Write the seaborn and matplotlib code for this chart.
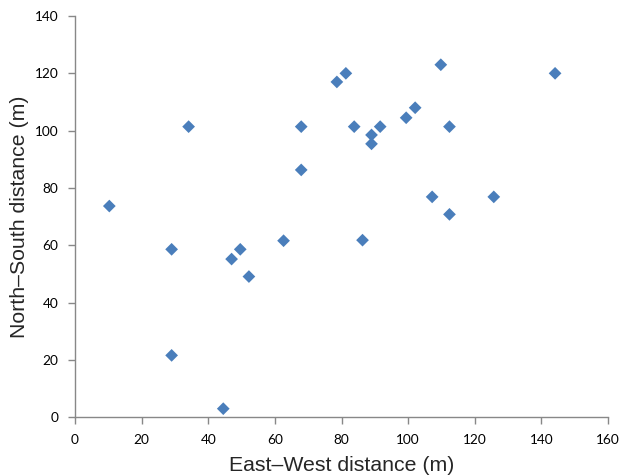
import numpy as np
import pandas as pd
import matplotlib
matplotlib.use("Agg")
import matplotlib.pyplot as plt
import seaborn as sns

# Point positions (metres)
east_west = [10.3, 29.0, 29.0, 34.1, 44.5, 47.0, 49.6, 52.2, 62.6, 67.9, 67.9,
             78.6, 81.3, 83.8, 86.3, 89.0, 89.0, 91.6, 99.4, 102.1, 107.2,
             109.8, 112.4, 112.4, 125.7, 144.1]
north_south = [73.7, 58.6, 21.6, 101.4, 3.0, 55.2, 58.6, 49.1, 61.6, 101.4, 86.3,
               117.0, 120.0, 101.4, 61.8, 98.5, 95.4, 101.4, 104.5, 108.0, 76.9,
               123.0, 101.4, 70.8, 76.9, 120.0]
x_ticks = [0, 20, 40, 60, 80, 100, 120, 140, 160]
y_ticks = [0, 20, 40, 60, 80, 100, 120, 140]

df = pd.DataFrame({"ew": east_west, "ns": north_south})

sns.set_style("white")
plt.rcParams["font.family"] = ["Lato", "DejaVu Sans"]

fig = plt.figure(figsize=(6.23, 4.75), dpi=100)
ax = fig.add_axes([0.1204, 0.1215, 0.8556, 0.8448])

sns.scatterplot(data=df, x="ew", y="ns", marker="D", s=42, color="#4a7ebb",
                edgecolor="none", ax=ax)

ax.set_xlim(0, 160)
ax.set_ylim(0, 140)
ax.set_xticks(x_ticks)
ax.set_yticks(y_ticks)

# Excel-like axes: gray left/bottom spines, outward ticks
for side in ["top", "right"]:
    ax.spines[side].set_visible(False)
for side in ["left", "bottom"]:
    ax.spines[side].set_color("#888888")
    ax.spines[side].set_linewidth(1.0)
ax.tick_params(axis="both", direction="out", length=5, width=1.0,
               color="#888888", labelsize=9.8, labelcolor="black", pad=7)
ax.tick_params(axis="both", which="both", bottom=True, left=True)

ax.set_xlabel("East\u2013West distance (m)", fontsize=15.3, color="#262626",
              family=["Liberation Sans", "DejaVu Sans"], labelpad=7)
ax.set_ylabel("North\u2013South distance (m)", fontsize=15.3, color="#262626",
              family=["Liberation Sans", "DejaVu Sans"], labelpad=4)

fig.savefig("out.png", dpi=100)
